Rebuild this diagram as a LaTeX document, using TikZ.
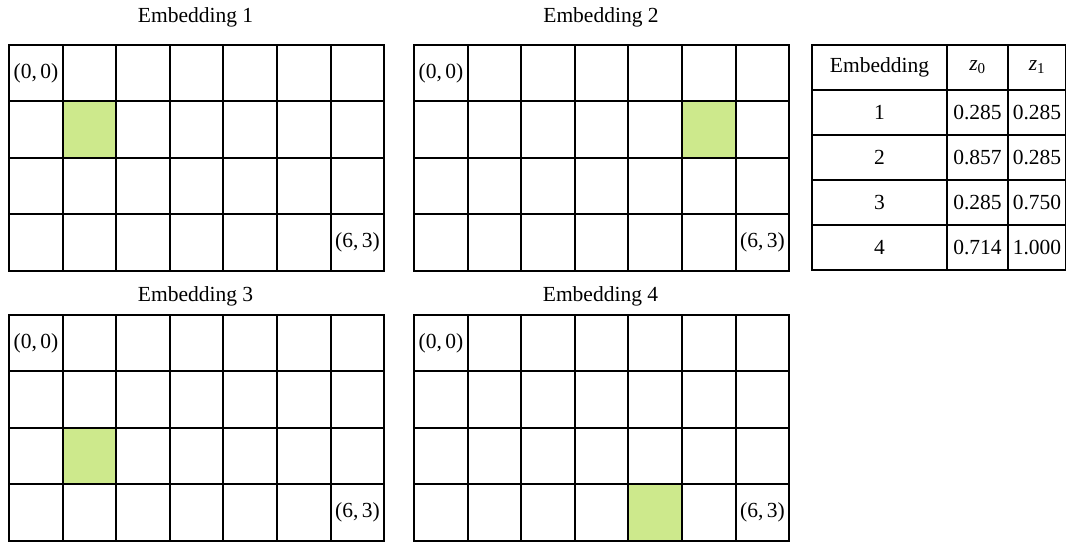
\documentclass[tikz,border=0pt]{standalone}
\usepackage{fontspec}
\setmainfont{Liberation Serif}
\definecolor{cellgreen}{RGB}{205,233,140}
\tikzset{
  txt/.style={font=\fontsize{21.5}{25}\selectfont},
  cell/.style={draw, line width=2pt, inner sep=0pt, anchor=north west},
  gtitle/.style={txt, inner sep=0pt, anchor=base},
  lbl/.style={txt, inner sep=0pt},
  tcell/.style={draw, line width=2pt, minimum height=45pt, inner sep=0pt,
                anchor=north west, txt},
}
% #1 name, #2 left, #3 top, #4 marked column, #5 marked row
% cell edges are rounded to whole points so every rule is equally crisp
\newcommand\embgrid[5]{%
  \foreach \c in {0,...,6}{%
    \foreach \r in {0,...,3}{%
      \pgfmathtruncatemacro\xa{round(#2+\c*53.6)}%
      \pgfmathtruncatemacro\xb{round(#2+(\c+1)*53.6)}%
      \pgfmathtruncatemacro\ya{round(#3+\r*56.4)}%
      \pgfmathtruncatemacro\yb{round(#3+(\r+1)*56.4)}%
      \pgfmathtruncatemacro\ishit{(\c==#4)&&(\r==#5)}%
      \ifnum\ishit=1 \def\cf{cellgreen}\else\def\cf{none}\fi
      \node[cell, fill=\cf, minimum width=\xb pt-\xa pt, minimum height=\yb pt-\ya pt]
        (#1-\c-\r) at (\xa,\ya) {};
    }%
  }%
  \node[lbl] (#1-origin) at (#1-0-0.center) {(0,\,0)};
  \node[lbl] (#1-corner) at (#1-6-3.center) {(6,\,3)};
}
\begin{document}
\begin{tikzpicture}[x=1pt, y=-1pt]
  \useasboundingbox (0,0) rectangle (1066,543);
  \fill[white] (0,0) rectangle (1066,543);

  % four embedding grids
  \embgrid{ga}{8}{44}{1}{1}
  \embgrid{gb}{413}{44}{5}{1}
  \embgrid{gc}{8}{314}{1}{2}
  \embgrid{gd}{413}{314}{4}{3}

  \node[gtitle] (ta) at (195.6,22.3) {Embedding 1};
  \node[gtitle] (tb) at (601,22.3) {Embedding 2};
  \node[gtitle] (tc) at (195.6,301.5) {Embedding 3};
  \node[gtitle] (td) at (600.5,301.5) {Embedding 4};

  % coordinate table
  \foreach \i/\e/\za/\zb in {0/Embedding/{\textit{z}\textsubscript{0}}/{\textit{z}\textsubscript{1}},
                             1/1/0.285/0.285, 2/2/0.857/0.285,
                             3/3/0.285/0.750, 4/4/0.714/1.000}{%
    \node[tcell, minimum width=135pt] (tab-\i-0) at (811,{44+\i*45}) {\e};
    \node[tcell, minimum width=61pt] (tab-\i-1) at (946,{44+\i*45}) {\za};
    \node[tcell, minimum width=58pt] (tab-\i-2) at (1007,{44+\i*45}) {\zb};
  }
\end{tikzpicture}
\end{document}
